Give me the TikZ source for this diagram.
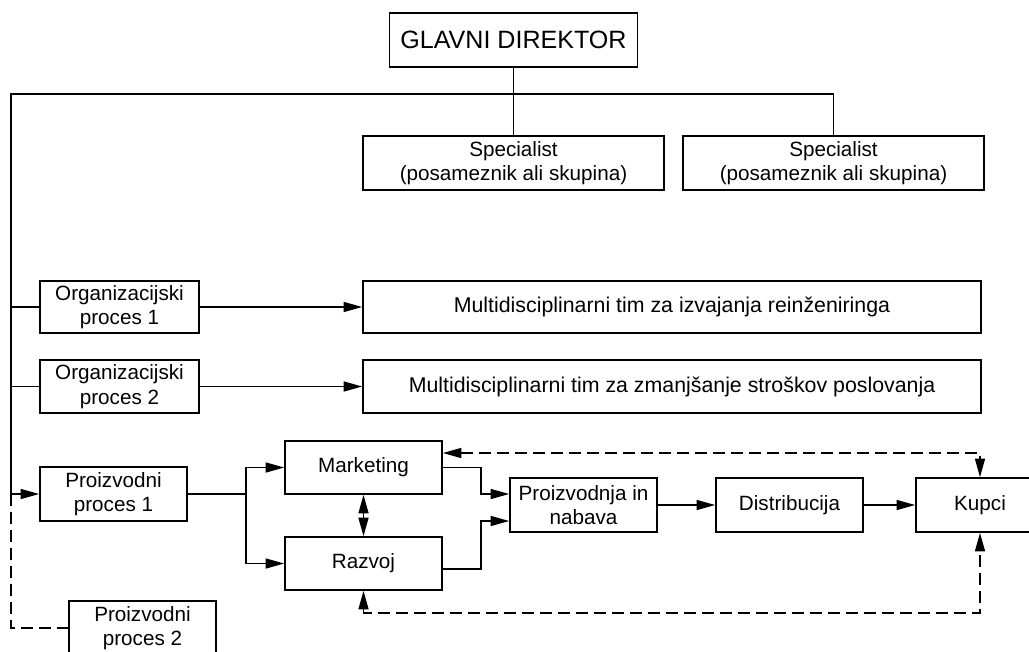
\documentclass[tikz,border=0pt]{standalone}
\usepackage{fontspec}
\setmainfont{Liberation Sans}
\usetikzlibrary{arrows.meta,calc}
\begin{document}
\begin{tikzpicture}[x=0.75pt,y=-0.75pt,line width=1.2pt,
  box/.style={draw,inner sep=0pt,align=center,
    font=\fontsize{15.5}{18.5}\selectfont},
  sz/.style 2 args={minimum width={#1*0.75pt},minimum height={#2*0.75pt}},
  tip/.style={-{Triangle[length=14pt,width=7.5pt]}},
  tips/.style={{Triangle[length=14pt,width=7.5pt]}-{Triangle[length=14pt,width=7.5pt]}},
  dash line/.style={dash pattern=on 9pt off 4.5pt}]

\useasboundingbox (0,0) rectangle (1029,651);
\fill[white] (0,0) rectangle (1029,651);
\begin{scope}
\clip (0,0) rectangle (1029,651);

% top of the hierarchy
\node[box,sz={248}{54},font=\fontsize{18.8}{22}\selectfont] (dir) at (513.5,40) {GLAVNI DIREKTOR};
\node[box,sz={301}{54}] (spec1) at (513.5,163) {Specialist\\(posameznik ali skupina)};
\node[box,sz={301}{54}] (spec2) at (833.5,163) {Specialist\\(posameznik ali skupina)};

% processes on the left
\node[box,sz={159}{52}] (org1) at (119.5,307) {Organizacijski\\proces 1};
\node[box,sz={159}{53}] (org2) at (119.5,386.5) {Organizacijski\\proces 2};
\node[box,sz={147}{54}] (proc1) at (113.5,494) {Proizvodni\\proces 1};
\node[box,sz={147}{54}] (proc2) at (142.5,628) {Proizvodni\\proces 2};

% teams
\node[box,sz={618}{52},font=\fontsize{16}{19}\selectfont] (multi1) at (672,307) {Multidisciplinarni tim za izvajanja reinženiringa};
\node[box,sz={618}{53},font=\fontsize{16}{19}\selectfont] (multi2) at (672,386.5) {Multidisciplinarni tim za zmanjšanje stroškov poslovanja};

% value chain
\node[box,sz={157}{53}] (mkt) at (363.5,467.5) {Marketing};
\node[box,sz={157}{53}] (raz) at (363.5,563.5) {Razvoj};
\node[box,sz={147}{54}] (pin) at (583.5,505) {Proizvodnja in\\nabava};
\node[box,sz={147}{54}] (dist) at (789.5,505) {Distribucija};
\node[box,sz={128}{54}] (kup) at (980,505) {Kupci};

% hierarchy lines
\coordinate (tl) at (11,94);
\coordinate (bl) at (11,494);
\draw (dir.south) -- (spec1.north);
\draw (spec2.north) |- (tl) -- (bl);
\draw (tl |- org1.west) -- (org1.west);
\draw (tl |- org2.west) -- (org2.west);
\draw[tip] (bl) -- (proc1.west);
\draw[dash line] (bl) |- (proc2.west);

% teams
\draw[tip] (org1.east) -- (multi1.west);
\draw[tip] (org2.east) -- (multi2.west);

% value chain links
\coordinate (split) at (246,494);
\draw (proc1.east) -- (split);
\draw[tip] (split) |- (mkt.west);
\draw[tip] (split) |- (raz.west);
\draw[tips] (mkt.south) -- (raz.north);
\coordinate (join) at (481,494);
\draw[tip] (mkt.east) -| (join) -- ($(pin.west)+(0,-11)$);
\draw[tip] ($(raz.east)+(0,5.5)$) -| ($(join)+(0,27)$) -- ($(pin.west)+(0,16)$);
\draw[tip] (pin.east) -- (dist.west);
\draw[tip] (dist.east) -- (kup.west);

% feedback from customers
\draw[tips,dash line] ($(mkt.east)+(0,-14.5)$) -| (kup.north);
\draw[tips,dash line] (raz.south) |- (980,613) -- (kup.south);
\end{scope}
\end{tikzpicture}
\end{document}
